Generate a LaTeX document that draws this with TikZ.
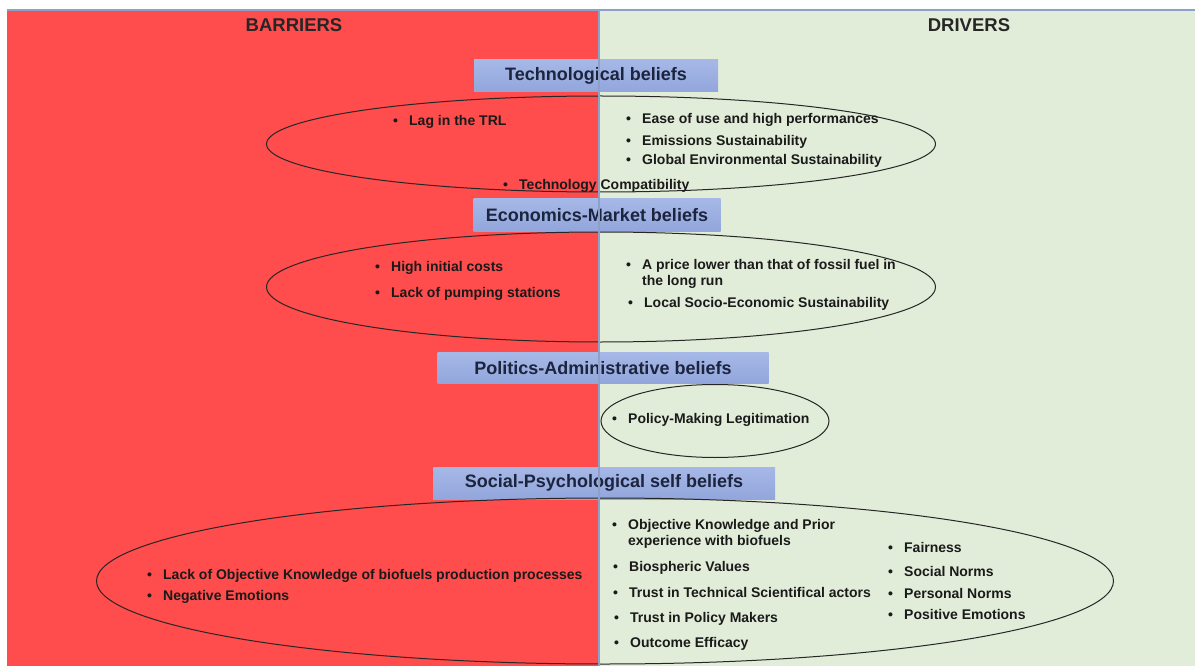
\documentclass[tikz,border=0pt]{standalone}
\usepackage{fontspec}
\setmainfont{Liberation Sans}
\usetikzlibrary{shapes.geometric}
\definecolor{barred}{RGB}{255,76,76}
\definecolor{drvgreen}{RGB}{226,237,217}
\definecolor{boxblue}{RGB}{146,166,220}
\definecolor{boxtop}{RGB}{166,184,230}
\definecolor{titleink}{RGB}{28,36,62}
\definecolor{itemink}{RGB}{26,26,26}
\definecolor{edgeblue}{RGB}{140,160,200}
\newcommand{\bul}{\makebox[16pt][l]{\textbullet}}
\tikzset{
  titlebox/.style={top color=boxtop, bottom color=boxblue, draw=none, inner sep=0pt,
    font=\bfseries\fontsize{18}{20}\selectfont, text=titleink},
  beliefring/.style={ellipse, draw=black!85, line width=1pt, inner sep=0pt},
  item/.style={anchor=west, inner sep=0pt, font=\bfseries\fontsize{14}{16.5}\selectfont, text=itemink, align=left},
  header/.style={font=\bfseries\fontsize{18.5}{20}\selectfont, text=black!85, inner sep=0pt}
}
\begin{document}
\begin{tikzpicture}[x=1pt,y=-1pt]
\useasboundingbox (0,0) rectangle (1195,666);
\fill[white] (0,0) rectangle (1195,666);
% halves
\fill[barred] (7,10) rectangle (599,666);
\fill[drvgreen] (599,10) rectangle (1195,666);
\draw[edgeblue, line width=1.5pt] (7,10) -- (1195,10);
% headers
\node[header] (bar) at (294,25) {BARRIERS};
\node[header] (drv) at (969,25) {DRIVERS};
% Technological beliefs
\node[titlebox, minimum width=244pt, minimum height=32pt] (t1) at (596,76) {Technological beliefs};
\node[beliefring, minimum width=669pt, minimum height=96pt] (e1) at (601,144) {};
\node[item] (t1a) at (393,122) {\bul Lag in the TRL};
\node[item] (t1b) at (626,120) {\bul Ease of use and high performances};
\node[item] (t1c) at (626,142) {\bul Emissions Sustainability};
\node[item] (t1d) at (626,161) {\bul Global Environmental Sustainability};
\node[item] (t1e) at (503,186) {\bul Technology Compatibility};
% Economics-Market beliefs
\node[titlebox, minimum width=247pt, minimum height=32pt] (t2) at (597,215) {Economics-Market beliefs};
\node[beliefring, minimum width=669pt, minimum height=110pt] (e2) at (601,287) {};
\node[item] (t2a) at (375,268) {\bul High initial costs};
\node[item] (t2b) at (375,294) {\bul Lack of pumping stations};
\node[item, anchor=north west] (t2c) at (626,259) {\bul A price lower than that of fossil fuel in\\\hspace*{16pt}the long run};
\node[item] (t2d) at (628,304) {\bul Local Socio-Economic Sustainability};
% Politics-Administrative beliefs
\node[titlebox, minimum width=331pt, minimum height=31pt] (t3) at (603,368) {Politics-Administrative beliefs};
\node[beliefring, minimum width=228pt, minimum height=73pt] (e3) at (715,421) {};
\node[item] (t3a) at (612,420) {\bul Policy-Making Legitimation};
% Social-Psychological self beliefs
\node[titlebox, minimum width=342pt, minimum height=32pt] (t4) at (604,483) {Social-Psychological self beliefs};
\node[beliefring, minimum width=1017pt, minimum height=166pt] (e4) at (605,581) {};
\node[item] (t4a) at (147,576) {\bul Lack of Objective Knowledge of biofuels production processes};
\node[item] (t4b) at (147,597) {\bul Negative Emotions};
\node[item, anchor=north west] (t4c) at (612,519) {\bul Objective Knowledge and Prior\\\hspace*{16pt}experience with biofuels};
\node[item] (t4d) at (613,568) {\bul Biospheric Values};
\node[item] (t4e) at (613,592) {\bul Trust in Technical Scientifical actors};
\node[item] (t4f) at (614,619) {\bul Trust in Policy Makers};
\node[item] (t4g) at (614,644) {\bul Outcome Efficacy};
\node[item] (t4h) at (888,547) {\bul Fairness};
\node[item] (t4i) at (888,571) {\bul Social Norms};
\node[item] (t4j) at (888,593) {\bul Personal Norms};
\node[item] (t4k) at (888,614) {\bul Positive Emotions};
% divider on top
\draw[edgeblue, line width=1.5pt] (599,10) -- (599,666);
\end{tikzpicture}
\end{document}
